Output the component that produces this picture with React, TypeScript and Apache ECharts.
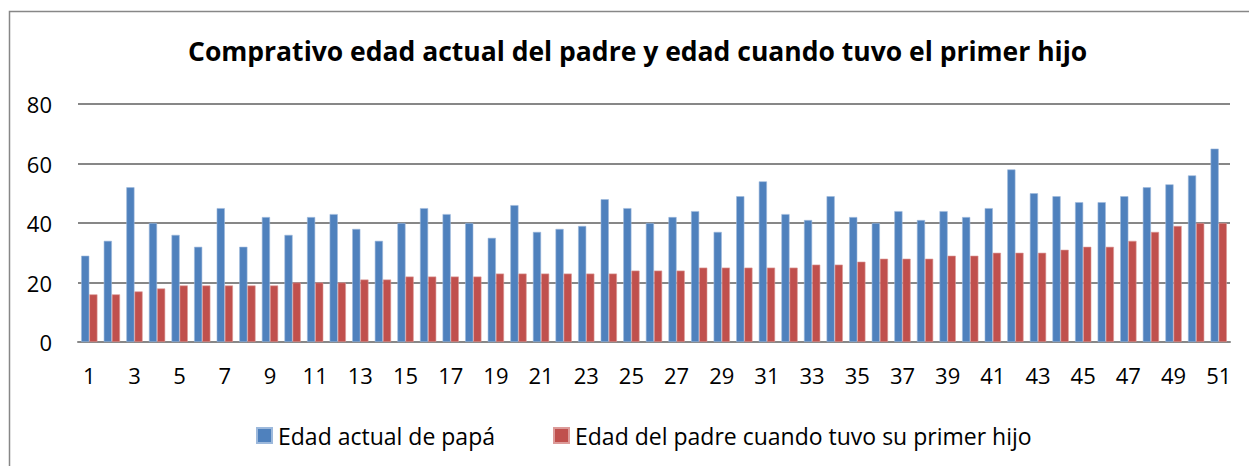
import React, { useEffect, useRef } from "react";
import * as echarts from "echarts";

const categories: string[] = Array.from({ length: 51 }, (_, i) => String(i + 1));

const edadActual: number[] = [
  29, 34, 52, 40, 36, 32, 45, 32, 42, 36,
  42, 43, 38, 34, 40, 45, 43, 40, 35, 46,
  37, 38, 39, 48, 45, 40, 42, 44, 37, 49,
  54, 43, 41, 49, 42, 40, 44, 41, 44, 42,
  45, 58, 50, 49, 47, 47, 49, 52, 53, 56,
  65,
];

const edadPrimerHijo: number[] = [
  16, 16, 17, 18, 19, 19, 19, 19, 19, 20,
  20, 20, 21, 21, 22, 22, 22, 22, 23, 23,
  23, 23, 23, 23, 24, 24, 24, 25, 25, 25,
  25, 25, 26, 26, 27, 28, 28, 28, 29, 29,
  30, 30, 30, 31, 32, 32, 34, 37, 39, 40,
  40,
];

const seriesNames: string[] = [
  "Edad actual de papá",
  "Edad del padre cuando tuvo su primer hijo",
];

const titleText = "Comprativo edad actual del padre y edad cuando tuvo el primer hijo";

const FONT = "'Open Sans', 'Liberation Sans', sans-serif";

export default function App() {
  const ref = useRef<HTMLDivElement>(null);

  useEffect(() => {
    document.body.style.margin = "0";
    if (!ref.current) return;
    const chart = echarts.init(ref.current, null, { renderer: "svg" });
    chart.setOption({
      animation: false,
      backgroundColor: "#ffffff",
      textStyle: { fontFamily: FONT },
      title: {
        text: titleText,
        left: 183,
        top: 32,
        textStyle: {
          fontFamily: FONT,
          fontSize: 26.5,
          fontWeight: "bold",
          color: "#000000",
        },
      },
      graphic: [
        {
          type: "rect",
          shape: { x: 9.5, y: 11.5, width: 1400, height: 600 },
          style: { fill: "none", stroke: "#878787", lineWidth: 1.5 },
          silent: true,
        },
      ],
      legend: {
        top: 419,
        left: 251,
        itemWidth: 15,
        itemHeight: 15,
        itemGap: 58,
        icon: "rect",
        textStyle: { fontFamily: FONT, fontSize: 23, color: "#000000", padding: [0, 0, 0, 1] },
        data: seriesNames,
      },
      grid: {
        left: 78,
        right: 19,
        top: 104,
        bottom: 124,
        containLabel: false,
      },
      xAxis: {
        type: "category",
        data: categories,
        axisLine: { show: true, lineStyle: { color: "#878787", width: 2 } },
        axisTick: { show: false },
        axisLabel: {
          interval: 1,
          margin: 22,
          fontFamily: FONT,
          fontSize: 22,
          color: "#000000",
        },
      },
      yAxis: {
        type: "value",
        min: 0,
        max: 80,
        interval: 20,
        axisLine: { show: false },
        axisTick: { show: false },
        axisLabel: {
          margin: 26,
          fontFamily: FONT,
          fontSize: 22,
          color: "#000000",
        },
        splitLine: { show: true, lineStyle: { color: "#878787", width: 2 } },
      },
      series: [
        {
          name: seriesNames[0],
          type: "bar",
          data: edadActual,
          barGap: "0%",
          barCategoryGap: "28%",
          itemStyle: { color: "#4F81BD", borderColor: "#9DB9DC", borderWidth: 0.6 },
        },
        {
          name: seriesNames[1],
          type: "bar",
          data: edadPrimerHijo,
          barGap: "0%",
          barCategoryGap: "28%",
          itemStyle: { color: "#C0504D", borderColor: "#DC9B99", borderWidth: 0.6 },
        },
      ],
    });
    return () => chart.dispose();
  }, []);

  return <div ref={ref} style={{ width: 1249, height: 466 }} />;
}
